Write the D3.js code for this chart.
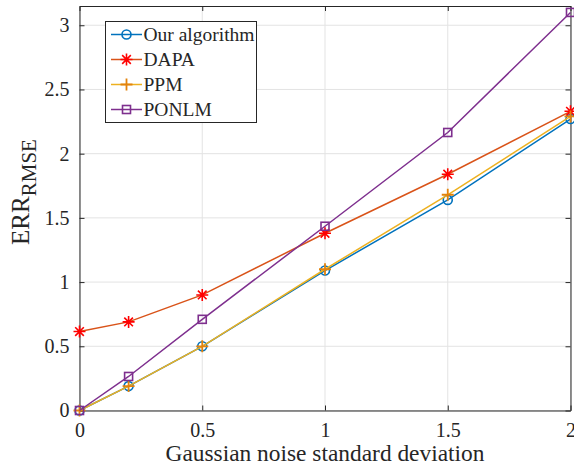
<!DOCTYPE html>
<html>
<head>
<meta charset="utf-8">
<script src="https://cdn.jsdelivr.net/npm/d3@7"></script>
<style>
  html, body { margin: 0; padding: 0; background: #fff; }
  svg { display: block; }
  text { font-family: "Liberation Serif", "Times New Roman", serif; fill: #262626; }
</style>
</head>
<body>
<svg id="chart" width="574" height="471"></svg>
<script>
// Noise levels (x) and error values per method
const noiseLevels = [0, 0.2, 0.5, 1, 1.5, 2];
const ourAlgorithm = [0, 0.19, 0.5, 1.09, 1.64, 2.27];
const dapa = [0.615, 0.69, 0.9, 1.38, 1.84, 2.33];
const ppm = [0, 0.19, 0.5, 1.1, 1.68, 2.29];
const ponlm = [0, 0.265, 0.71, 1.435, 2.165, 3.1];
const xTicks = [0, 0.5, 1, 1.5, 2];
const yTicks = [0, 0.5, 1, 1.5, 2, 2.5, 3];
const seriesNames = ["Our algorithm", "DAPA", "PPM", "PONLM"];

const series = [
  { name: seriesNames[0], values: ourAlgorithm, color: "#0072BD", markColor: "#0072BD", marker: "circle" },
  { name: seriesNames[1], values: dapa, color: "#D95319", markColor: "#FF0000", marker: "star" },
  { name: seriesNames[2], values: ppm, color: "#EDB120", markColor: "#E3830C", marker: "plus" },
  { name: seriesNames[3], values: ponlm, color: "#7E2F8E", markColor: "#7E2F8E", marker: "square" }
];

const svg = d3.select("#chart");
const plotLeft = 79.5, plotRight = 570.5, plotTop = 6, plotBottom = 410.5;

const x = d3.scaleLinear().domain([0, 2]).range([plotLeft, plotRight]);
const y = d3.scaleLinear().domain([0, 3.15]).range([plotBottom, plotTop]);

// grid
const grid = svg.append("g");
grid.selectAll("line.gx").data(xTicks).join("line")
  .attr("x1", d => x(d)).attr("x2", d => x(d))
  .attr("y1", plotTop).attr("y2", plotBottom)
  .attr("stroke", "#e3e3e3").attr("stroke-width", 1);
grid.selectAll("line.gy").data(yTicks).join("line")
  .attr("y1", d => y(d)).attr("y2", d => y(d))
  .attr("x1", plotLeft).attr("x2", plotRight)
  .attr("stroke", "#e3e3e3").attr("stroke-width", 1);

// axes with inward ticks (box on all four sides)
const tickLen = 5;
const axB = d3.axisBottom(x).tickValues(xTicks).tickFormat(d3.format("")).tickSizeInner(-tickLen).tickSizeOuter(0).tickPadding(12);
const axT = d3.axisTop(x).tickValues(xTicks).tickFormat("").tickSizeInner(-tickLen).tickSizeOuter(0);
const axL = d3.axisLeft(y).tickValues(yTicks).tickFormat(d3.format("")).tickSizeInner(-tickLen).tickSizeOuter(0).tickPadding(10);
const axR = d3.axisRight(y).tickValues(yTicks).tickFormat("").tickSizeInner(-tickLen).tickSizeOuter(0);

function styleAxis(g) {
  g.select(".domain").attr("stroke", "#262626").attr("stroke-width", 1);
  g.selectAll(".tick line").attr("stroke", "#262626");
  g.selectAll(".tick text").attr("font-size", 20).attr("fill", "#262626")
    .attr("font-family", "Liberation Serif, serif");
}
svg.append("g").attr("transform", `translate(0,${plotBottom})`).call(axB).call(styleAxis);
svg.append("g").attr("transform", `translate(0,${plotTop})`).call(axT).call(styleAxis);
svg.append("g").attr("transform", `translate(${plotLeft},0)`).call(axL).call(styleAxis);
svg.append("g").attr("transform", `translate(${plotRight},0)`).call(axR).call(styleAxis);

// markers
function drawMarker(g, type, cx, cy, color) {
  if (type === "circle") {
    g.append("circle").attr("cx", cx).attr("cy", cy).attr("r", 4.5)
      .attr("fill", "none").attr("stroke", color).attr("stroke-width", 1.6);
  } else if (type === "square") {
    g.append("rect").attr("x", cx - 4).attr("y", cy - 4).attr("width", 8).attr("height", 8)
      .attr("fill", "none").attr("stroke", color).attr("stroke-width", 1.6);
  } else if (type === "plus") {
    g.append("path").attr("d", `M${cx - 6},${cy}H${cx + 6}M${cx},${cy - 6}V${cy + 6}`)
      .attr("stroke", color).attr("stroke-width", 1.8).attr("fill", "none");
  } else if (type === "star") {
    const r = 6, r2 = r * 0.72;
    g.append("path").attr("d",
      `M${cx - r},${cy}H${cx + r}M${cx},${cy - r}V${cy + r}` +
      `M${cx - r2},${cy - r2}L${cx + r2},${cy + r2}M${cx - r2},${cy + r2}L${cx + r2},${cy - r2}`)
      .attr("stroke", color).attr("stroke-width", 1.6).attr("fill", "none");
  }
}

const line = d3.line().x((d, i) => x(noiseLevels[i])).y(d => y(d));
const plot = svg.append("g");
series.forEach(s => {
  plot.append("path").datum(s.values).attr("d", line)
    .attr("fill", "none").attr("stroke", s.color).attr("stroke-width", 1.5);
  const mg = plot.append("g");
  s.values.forEach((v, i) => drawMarker(mg, s.marker, x(noiseLevels[i]), y(v), s.markColor));
});

// axis labels
svg.append("text").attr("x", (plotLeft + plotRight) / 2).attr("y", 461)
  .attr("text-anchor", "middle").attr("font-size", 23.4)
  .text("Gaussian noise standard deviation");

const yl = svg.append("text")
  .attr("transform", "translate(29,192) rotate(-90)")
  .attr("text-anchor", "middle").attr("font-size", 25);
yl.append("tspan").text("ERR");
yl.append("tspan").attr("font-size", 21).attr("dy", 7).text("RMSE");

// legend
const lg = svg.append("g");
lg.append("rect").attr("x", 105.5).attr("y", 21.5).attr("width", 151).attr("height", 101)
  .attr("fill", "#fff").attr("stroke", "#262626").attr("stroke-width", 1);
const legendY = d3.scalePoint().domain(seriesNames).range([34.5, 109.5]);
series.forEach(s => {
  const cy = legendY(s.name);
  lg.append("line").attr("x1", 111).attr("x2", 142).attr("y1", cy).attr("y2", cy)
    .attr("stroke", s.color).attr("stroke-width", 1.5);
  drawMarker(lg, s.marker, 126.5, cy, s.markColor);
  lg.append("text").attr("x", 143.5).attr("y", cy + 6.5).attr("font-size", 19.5).text(s.name);
});
</script>
</body>
</html>
